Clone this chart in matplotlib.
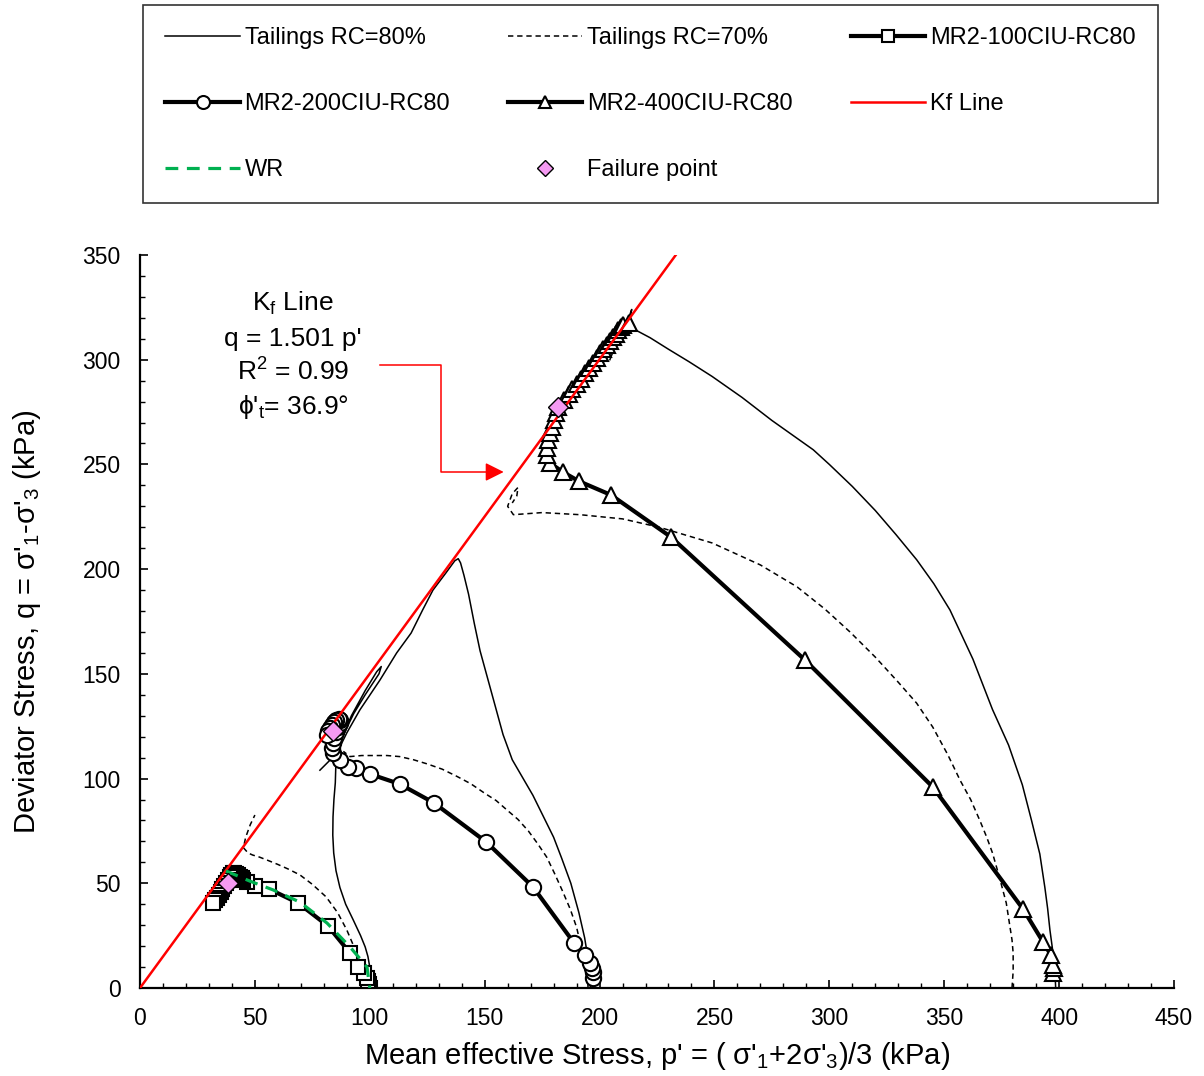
import matplotlib
matplotlib.use("Agg")
import matplotlib.pyplot as plt
from matplotlib.ticker import MultipleLocator

plt.rcParams['font.family'] = ['Liberation Sans', 'DejaVu Sans']
plt.rcParams['mathtext.default'] = 'regular'

# ---- Tailings RC=80% stress paths (p', q) ----
t80_100_p = [100.5, 100.3, 100.0, 99.2, 98.0, 96.0, 92.8, 89.5, 87.0, 85.3, 84.3, 83.9, 84.0, 84.4, 85.0, 85.3,
             87.0, 92.0, 98.0, 103.0, 105.0, 104.0, 98.0, 93.0, 89.0, 86.0]
t80_100_q = [0.0, 5.0, 10.0, 15.0, 19.6, 25.0, 32.5, 40.0, 48.0, 56.0, 64.5, 73.0, 81.7, 90.0, 98.0, 109.0,
             117.0, 130.0, 142.0, 151.0, 153.5, 150.0, 140.0, 131.0, 122.0, 113.0]

t80_200_p = [196.0, 195.8, 195.0, 193.5, 191.0, 187.5, 183.5, 180.0, 175.5, 171.0, 166.5, 162.0, 158.0, 155.0,
             151.5, 148.0, 145.5, 143.0, 141.0, 139.5, 138.5, 137.0, 133.0, 127.5, 123.0, 118.0, 111.7, 104.4,
             95.7, 90.0, 85.6, 78.3]
t80_200_q = [0.0, 6.0, 14.0, 24.0, 36.0, 50.0, 62.0, 72.0, 82.0, 92.0, 100.5, 109.0, 121.0, 133.0,
             147.0, 161.0, 174.0, 188.0, 197.0, 203.0, 205.0, 204.0, 198.0, 190.0, 180.5, 169.5, 160.0, 147.0,
             132.8, 121.8, 112.0, 104.0]

t80_400_p = [398.5, 398.2, 397.5, 397.0, 396.0, 395.0, 393.8, 391.6, 388.0, 384.0, 378.0, 371.0, 362.5, 352.5,
             345.5, 338.0, 329.0, 320.0, 310.0, 300.0, 293.0, 284.0, 275.0, 262.0, 249.0, 239.0, 230.0, 222.0,
             216.0, 213.0, 214.0, 213.0, 210.0, 207.0, 204.5]
t80_400_q = [0.0, 8.0, 15.0, 19.6, 27.7, 38.0, 48.0, 64.0, 80.0, 97.0, 116.0, 133.0, 157.0, 180.5,
             193.0, 204.5, 216.5, 228.0, 239.5, 250.0, 257.0, 264.0, 271.0, 282.0, 292.0, 299.0, 305.0, 310.5,
             314.0, 318.0, 324.0, 321.0, 314.0, 307.0, 300.0]

# ---- Tailings RC=70% stress paths ----
t70_100_p = [97.5, 97.0, 96.5, 95.7, 94.5, 93.0, 90.0, 86.0, 81.0, 75.0, 69.6, 64.5, 60.0, 55.5, 52.0, 49.0,
             47.0, 45.0, 46.0, 48.0, 50.0]
t70_100_q = [0.0, 3.0, 6.0, 12.0, 16.0, 20.0, 27.7, 36.0, 43.5, 49.5, 54.0, 56.8, 59.0, 61.0, 62.5, 63.5,
             64.5, 67.0, 72.0, 78.0, 82.6]

t70_200_p = [195.0, 194.8, 194.0, 193.0, 191.5, 190.0, 187.3, 184.0, 180.5, 177.0, 173.0, 169.0, 164.5, 159.7,
             155.0, 150.0, 144.0, 138.0, 131.5, 125.0, 119.0, 113.0, 107.5, 102.0, 96.5, 91.4, 88.5]
t70_200_q = [0.0, 4.0, 10.0, 15.0, 22.0, 29.0, 37.5, 46.0, 54.5, 62.5, 69.0, 75.0, 80.5, 85.0,
             89.5, 93.0, 97.5, 101.0, 104.5, 107.0, 109.0, 110.5, 111.0, 111.0, 111.0, 110.5, 113.0]

t70_400_p = [379.5, 380.0, 380.0, 379.5, 378.5, 377.0, 374.0, 371.0, 368.5, 365.5, 361.5, 357.0, 351.5, 345.0,
             338.0, 330.0, 320.0, 309.0, 298.0, 286.0, 270.0, 249.0, 226.0, 210.0, 191.5, 175.0, 162.5, 160.0,
             162.0, 164.5, 164.0, 162.0]
t70_400_q = [0.0, 8.0, 16.7, 23.0, 30.0, 40.6, 53.0, 64.5, 72.0, 80.0, 90.0, 99.0, 111.5, 124.6,
             136.0, 146.0, 158.0, 170.0, 181.0, 191.5, 202.0, 212.5, 220.0, 224.0, 226.0, 227.0, 226.0, 230.0,
             236.0, 239.0, 235.0, 231.6]

# ---- MR2 CIU tests (RC80) ----
mr100_p = [100.0, 99.6, 99.2, 98.8, 97.5, 95.0, 91.4, 81.8, 68.8, 56.1, 50.0, 46.4, 45.0, 44.2, 43.4, 42.6, 41.8, 41.0, 40.5,
           39.8, 39.0, 38.3, 37.5, 36.7, 35.9, 35.1, 34.3, 33.5, 32.7, 31.9]
mr100_q = [0.0, 2.0, 3.5, 5.0, 7.0, 10.0, 16.7, 29.6, 40.6, 47.3, 48.7, 50.6, 51.6, 52.4, 53.2, 53.9, 54.4, 54.8, 54.9,
           54.0, 52.8, 51.4, 50.0, 48.6, 47.2, 45.8, 44.5, 43.2, 41.9, 40.6]

mr200_p = [197.3, 197.0, 196.5, 195.8, 193.6, 188.9, 171.0, 150.6, 127.9, 113.0, 100.0, 94.0, 90.5, 87.0, 84.0, 83.5,
           83.8, 84.5, 85.3, 86.2, 87.0, 87.2, 86.5, 85.5, 84.5, 83.5, 82.5, 81.7, 81.2]
mr200_q = [5.0, 7.6, 9.5, 12.0, 15.8, 21.5, 48.3, 69.8, 88.4, 97.4, 102.2, 105.0, 105.5, 109.0, 112.0, 114.6,
           117.0, 119.5, 122.0, 124.5, 126.5, 127.8, 128.5, 128.0, 127.0, 125.5, 124.0, 122.5, 121.0]

mr400_p = [397.5, 397.7, 397.3, 396.4, 393.0, 384.3, 345.0, 289.4, 231.0, 205.0, 191.0, 184.0, 178.4, 177.0, 177.0,
           177.6, 178.4, 179.2, 180.2, 181.0, 181.9, 184.7, 186.5, 188.2, 190.0, 191.8, 193.5, 195.3, 197.1, 198.8,
           200.3, 201.7, 203.1, 204.6, 206.0, 207.1, 208.2, 209.3, 210.4, 213.0]
mr400_q = [7.0, 9.5, 11.0, 15.8, 22.0, 37.7, 96.0, 156.6, 215.4, 235.4, 242.0, 246.4, 250.7, 254.5, 258.0,
           261.7, 265.0, 268.0, 271.2, 274.4, 277.5, 281.0, 283.5, 286.0, 288.5, 291.0, 293.5, 296.0, 298.5, 301.0,
           303.0, 305.0, 307.0, 309.0, 311.0, 312.5, 314.0, 315.5, 316.5, 317.6]

# ---- Waste rock path ----
wr_p = [37.4, 47.9, 58.0, 69.6, 81.4, 91.4, 98.8, 100.0]
wr_q = [55.9, 51.0, 46.8, 41.0, 31.0, 19.6, 10.0, 0.0]

# ---- Failure points ----
fail_p = [38.3, 84.0, 181.9]
fail_q = [50.0, 122.8, 277.5]

# ---- Kf line fit ----
kf_slope = 1.501
kf_p = [0.0, 240.0]
kf_q = [kf_slope * v for v in kf_p]

fig = plt.figure(figsize=(12.04, 10.76), dpi=100)
ax = fig.add_axes([140 / 1204, 1 - 988 / 1076, 1034 / 1204, 733 / 1076])

thin = 1.1
lt80, = ax.plot(t80_100_p, t80_100_q, color='black', lw=thin, zorder=2, label='Tailings RC=80%')
ax.plot(t80_200_p, t80_200_q, color='black', lw=thin, zorder=2)
ax.plot(t80_400_p, t80_400_q, color='black', lw=thin, zorder=2)

lt70, = ax.plot(t70_100_p, t70_100_q, color='black', lw=thin, dashes=(3.5, 2.5), zorder=2, label='Tailings RC=70%')
ax.plot(t70_200_p, t70_200_q, color='black', lw=thin, dashes=(3.5, 2.5), zorder=2)
ax.plot(t70_400_p, t70_400_q, color='black', lw=thin, dashes=(3.5, 2.5), zorder=2)

mk = dict(color='black', lw=3.0, mfc='white', mec='black', mew=1.5, zorder=3)
l100, = ax.plot(mr100_p, mr100_q, marker='s', ms=10, label='MR2-100CIU-RC80', **mk)
l200, = ax.plot(mr200_p, mr200_q, marker='o', ms=11, label='MR2-200CIU-RC80', **mk)
l400, = ax.plot(mr400_p, mr400_q, marker='^', ms=11, label='MR2-400CIU-RC80', **mk)

lkf, = ax.plot(kf_p, kf_q, color='#FF0000', lw=1.8, zorder=4, label='Kf Line')
lwr, = ax.plot(wr_p, wr_q, color='#00B050', lw=2.3, dashes=(4, 2.7), zorder=5, label='WR')
lfail, = ax.plot(fail_p, fail_q, ls='none', marker='D', ms=10, mfc='#F59AF2', mec='black', mew=1.0,
                 zorder=6, label='Failure point')

ax.set_xlim(0, 450)
ax.set_ylim(0, 350)
ax.xaxis.set_major_locator(MultipleLocator(50))
ax.xaxis.set_minor_locator(MultipleLocator(10))
ax.yaxis.set_major_locator(MultipleLocator(50))
ax.yaxis.set_minor_locator(MultipleLocator(10))
ax.tick_params(which='major', direction='in', length=6, width=1.2, labelsize=16.5, pad=14)
ax.tick_params(which='minor', direction='in', length=3.5, width=1.0)
for s in ('top', 'right'):
    ax.spines[s].set_visible(False)
for s in ('left', 'bottom'):
    ax.spines[s].set_linewidth(1.6)

ax.set_xlabel("Mean effective Stress, p' = ( σ'$_1$+2σ'$_3$)/3 (kPa)", fontsize=21, labelpad=7)
ax.set_ylabel("Deviator Stress, q = σ'$_1$-σ'$_3$ (kPa)", fontsize=21, labelpad=28)

# Kf annotation text and arrow
ann = dict(ha='center', va='center', fontsize=19, zorder=7)
ax.text(66.6, 326.8, "K$_f$ Line", **ann)
ax.text(66.6, 310.1, "q = 1.501 p'", **ann)
ax.text(66.6, 294.3, "R$^2$ = 0.99", **ann)
ax.text(66.6, 277.6, "ϕ'$_t$= 36.9°", **ann)
ax.plot([104.4, 131.0, 131.0, 152.0], [297.5, 297.5, 246.4, 246.4], color='#FF0000', lw=1.1, zorder=4)
ax.annotate('', xy=(159.5, 246.4), xytext=(150.0, 246.4),
            arrowprops=dict(arrowstyle='-|>', color='#FF0000', lw=1.1, mutation_scale=28))

handles = [lt80, l200, lwr, lt70, l400, lfail, l100, lkf]
leg = fig.legend(handles=handles, labels=[h.get_label() for h in handles], ncol=3,
                 loc='upper left', bbox_to_anchor=(143 / 1204, 1 - 5 / 1076), borderaxespad=0.0,
                 fontsize=17, frameon=True, fancybox=False, edgecolor='black',
                 handlelength=3.15, handletextpad=0.2, columnspacing=2.45,
                 labelspacing=1.85, borderpad=0.95, markerscale=0.85)
leg.get_frame().set_linewidth(1.2)

fig.savefig('out.png', dpi=100)
